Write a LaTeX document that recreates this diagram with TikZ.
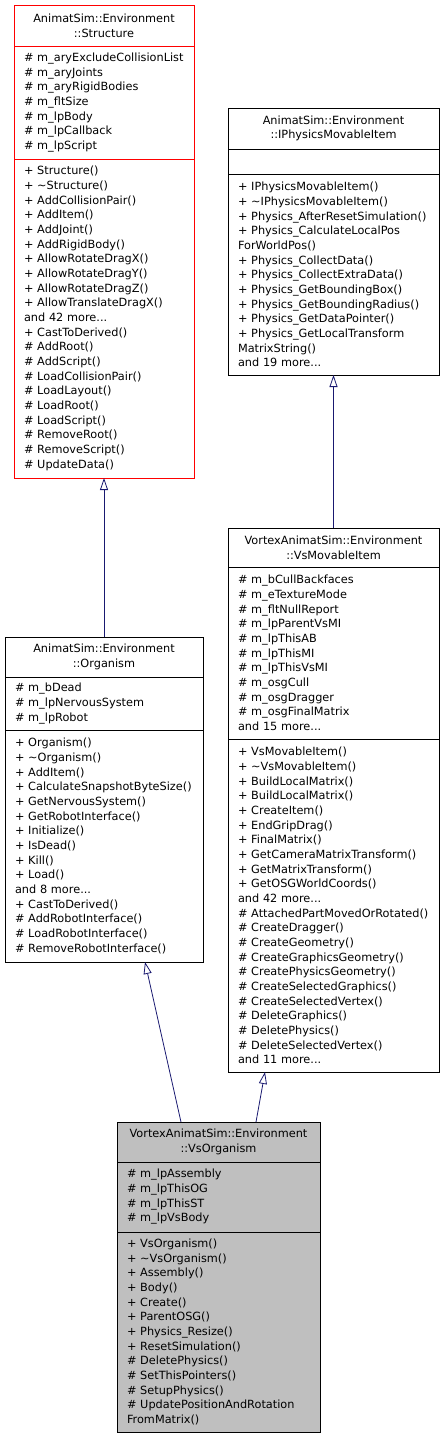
\documentclass[tikz,border=0pt]{standalone}
\usepackage{fontspec}
\setmainfont{DejaVu Sans}
\usetikzlibrary{positioning, arrows.meta}

\definecolor{edgeblue}{HTML}{191970}
\definecolor{hilite}{HTML}{FF0000}
\definecolor{current}{HTML}{BFBFBF}

\begin{document}
\begin{tikzpicture}[x=1pt, y=-1pt,
                    every node/.style={outer sep=0pt, inner ysep=0pt, inner xsep=10pt,
                                       font=\fontsize{11.3}{14.67}\selectfont},
                    classpart/.style={rectangle, draw=black, line width=0.8pt, align=left},
                    classtitle/.style={classpart, align=center},
                    parent/.style={draw=edgeblue, line width=0.8pt,
                                   -{Triangle[open, length=12pt, width=8pt]}}]
    \useasboundingbox (0,0) rectangle (445,1439);

    % base class: Structure
    \node (structure-title) [classtitle, draw=hilite, anchor=north west, text width=160pt,
                             minimum height=41pt] at (14,5)
        {AnimatSim::Environment\\::Structure};
    \node (structure-attrs) [classpart, draw=hilite, text width=160pt, minimum height=113pt,
                             below=0pt of structure-title]
        {\# m\_aryExcludeCollisionList\\\# m\_aryJoints\\\# m\_aryRigidBodies\\\# m\_fltSize\\
         \# m\_lpBody\\\# m\_lpCallback\\\# m\_lpScript};
    \node (structure-ops) [classpart, draw=hilite, text width=160pt, minimum height=319pt,
                           below=0pt of structure-attrs]
        {+ Structure()\\+ \textasciitilde Structure()\\+ AddCollisionPair()\\+ AddItem()\\
         + AddJoint()\\+ AddRigidBody()\\+ AllowRotateDragX()\\+ AllowRotateDragY()\\
         + AllowRotateDragZ()\\+ AllowTranslateDragX()\\and 42 more...\\+ CastToDerived()\\
         \# AddRoot()\\\# AddScript()\\\# LoadCollisionPair()\\\# LoadLayout()\\\# LoadRoot()\\
         \# LoadScript()\\\# RemoveRoot()\\\# RemoveScript()\\\# UpdateData()};

    % base class: IPhysicsMovableItem
    \node (movable-title) [classtitle, anchor=north west, text width=191pt,
                           minimum height=41pt] at (228,108)
        {AnimatSim::Environment\\::IPhysicsMovableItem};
    \node (movable-attrs) [classpart, text width=191pt, minimum height=25pt,
                           below=0pt of movable-title] {};
    \node (movable-ops) [classpart, text width=191pt, minimum height=201pt,
                         below=0pt of movable-attrs]
        {+ IPhysicsMovableItem()\\+ \textasciitilde IPhysicsMovableItem()\\
         + Physics\_AfterResetSimulation()\\+ Physics\_CalculateLocalPos\\ForWorldPos()\\
         + Physics\_CollectData()\\+ Physics\_CollectExtraData()\\+ Physics\_GetBoundingBox()\\
         + Physics\_GetBoundingRadius()\\+ Physics\_GetDataPointer()\\
         + Physics\_GetLocalTransform\\MatrixString()\\and 19 more...};

    % VsMovableItem
    \node (vsmovable-title) [classtitle, anchor=north west, text width=191pt,
                             minimum height=39pt] at (228,528)
        {VortexAnimatSim::Environment\\::VsMovableItem};
    \node (vsmovable-attrs) [classpart, text width=191pt, minimum height=172pt,
                             below=0pt of vsmovable-title]
        {\# m\_bCullBackfaces\\\# m\_eTextureMode\\\# m\_fltNullReport\\\# m\_lpParentVsMI\\
         \# m\_lpThisAB\\\# m\_lpThisMI\\\# m\_lpThisVsMI\\\# m\_osgCull\\\# m\_osgDragger\\
         \# m\_osgFinalMatrix\\and 15 more...};
    \node (vsmovable-ops) [classpart, text width=191pt, minimum height=333pt,
                           below=0pt of vsmovable-attrs]
        {+ VsMovableItem()\\+ \textasciitilde VsMovableItem()\\+ BuildLocalMatrix()\\
         + BuildLocalMatrix()\\+ CreateItem()\\+ EndGripDrag()\\+ FinalMatrix()\\
         + GetCameraMatrixTransform()\\+ GetMatrixTransform()\\+ GetOSGWorldCoords()\\
         and 42 more...\\\# AttachedPartMovedOrRotated()\\\# CreateDragger()\\
         \# CreateGeometry()\\\# CreateGraphicsGeometry()\\\# CreatePhysicsGeometry()\\
         \# CreateSelectedGraphics()\\\# CreateSelectedVertex()\\\# DeleteGraphics()\\
         \# DeletePhysics()\\\# DeleteSelectedVertex()\\and 11 more...};

    % Organism
    \node (organism-title) [classtitle, anchor=north west, text width=178pt,
                            minimum height=40pt] at (5,637)
        {AnimatSim::Environment\\::Organism};
    \node (organism-attrs) [classpart, text width=178pt, minimum height=53pt,
                            below=0pt of organism-title]
        {\# m\_bDead\\\# m\_lpNervousSystem\\\# m\_lpRobot};
    \node (organism-ops) [classpart, text width=178pt, minimum height=232pt,
                          below=0pt of organism-attrs]
        {+ Organism()\\+ \textasciitilde Organism()\\+ AddItem()\\
         + CalculateSnapshotByteSize()\\+ GetNervousSystem()\\+ GetRobotInterface()\\
         + Initialize()\\+ IsDead()\\+ Kill()\\+ Load()\\and 8 more...\\+ CastToDerived()\\
         \# AddRobotInterface()\\\# LoadRobotInterface()\\\# RemoveRobotInterface()};

    % VsOrganism (this class)
    \node (vsorganism-title) [classtitle, fill=current, anchor=north west, text width=183pt,
                              minimum height=40pt] at (117,1122)
        {VortexAnimatSim::Environment\\::VsOrganism};
    \node (vsorganism-attrs) [classpart, fill=current, text width=183pt, minimum height=70pt,
                              below=0pt of vsorganism-title]
        {\# m\_lpAssembly\\\# m\_lpThisOG\\\# m\_lpThisST\\\# m\_lpVsBody};
    \node (vsorganism-ops) [classpart, fill=current, text width=183pt, minimum height=200pt,
                            below=0pt of vsorganism-attrs]
        {+ VsOrganism()\\+ \textasciitilde VsOrganism()\\+ Assembly()\\+ Body()\\+ Create()\\
         + ParentOSG()\\+ Physics\_Resize()\\+ ResetSimulation()\\\# DeletePhysics()\\
         \# SetThisPointers()\\\# SetupPhysics()\\\# UpdatePositionAndRotation\\FromMatrix()};

    \draw[parent] (organism-title.north) -- (structure-ops.south);
    \draw[parent] (vsmovable-title.north) -- (movable-ops.south);
    \draw[parent] ([xshift=-37.5pt]vsorganism-title.north) -- ([xshift=41pt]organism-ops.south);
    \draw[parent] ([xshift=37.5pt]vsorganism-title.north) -- ([xshift=-68.5pt]vsmovable-ops.south);
\end{tikzpicture}
\end{document}
